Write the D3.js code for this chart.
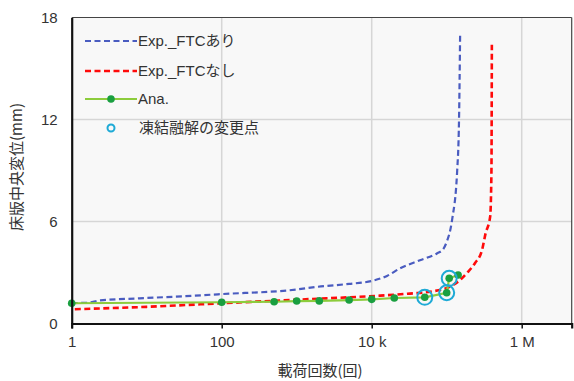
<!DOCTYPE html>
<html><head><meta charset="utf-8">
<script src="https://cdn.jsdelivr.net/npm/d3@7"></script>
<style>body{margin:0;background:#fff;}svg{display:block;font-family:"Liberation Sans",Arial,sans-serif;}</style>
</head><body>
<svg id="c" width="574" height="381"></svg>
<script>
const xTickValues = [1, 100, 10000, 1000000];
const xTickLabels = ["1", "100", "10 k", "1 M"];
const yTickValues = [0, 6, 12, 18];
const seriesNames = ["Exp._FTCあり", "Exp._FTCなし", "Ana.", "凍結融解の変更点"];
const expWithFTC = [[1,1.2],[1.6,1.22],[2.4,1.36],[8,1.48],[30,1.6],[100,1.73],[1000,2.0],[1900,2.16],[5000,2.33],[10000,2.5],[16000,2.8],[24000,3.25],[44000,3.72],[74000,4.12],[89000,4.35],[100000,4.8],[118000,6.1],[138000,9.0],[146000,12.0],[151000,17.0]];
const expWithoutFTC = [[1.1,0.84],[10,0.98],[100,1.19],[1000,1.4],[2500,1.48],[13000,1.64],[30000,1.75],[60000,1.87],[100000,2.09],[151000,2.56],[186000,2.97],[239000,3.56],[295000,4.3],[330000,5.3],[380000,6.3],[395000,9.0],[400000,16.4]];
const analysis = [[1,1.19],[100,1.25],[500,1.28],[1000,1.32],[2000,1.33],[5000,1.38],[10000,1.42],[20000,1.5],[51000,1.54],[100000,1.81],[108000,2.66],[142000,2.85]];
const changePoints = [[51000,1.54],[100000,1.81],[108000,2.66]];

const svg = d3.select("#c");
const L = 71.7, R = 571.7, T = 17.5, B = 323.5;
const x = d3.scaleLog().domain([1, Math.pow(10, 500/75)]).range([L, R]);
const y = d3.scaleLinear().domain([0, 18]).range([B, T]);

svg.append("rect").attr("x", L).attr("y", T).attr("width", R-L).attr("height", B-T).attr("fill", "#f8f8f8");

// grid
svg.append("g").selectAll("line").data(xTickValues.slice(1)).join("line")
  .attr("x1", d=>x(d)).attr("x2", d=>x(d)).attr("y1", T).attr("y2", B)
  .attr("stroke", "#d6d6d6").attr("stroke-width", 1.5);
svg.append("g").selectAll("line").data(yTickValues.slice(1,3)).join("line")
  .attr("x1", L).attr("x2", R).attr("y1", d=>y(d)).attr("y2", d=>y(d))
  .attr("stroke", "#d6d6d6").attr("stroke-width", 1.5);

// frame top/right
svg.append("line").attr("x1", L).attr("x2", R).attr("y1", T).attr("y2", T).attr("stroke", "#444").attr("stroke-width", 1.2);
svg.append("line").attr("x1", R).attr("x2", R).attr("y1", T).attr("y2", B).attr("stroke", "#444").attr("stroke-width", 1.2);

const line = d3.line().x(d=>x(d[0])).y(d=>y(d[1]));
const smooth = d3.line().x(d=>x(d[0])).y(d=>y(d[1])).curve(d3.curveMonotoneX);

svg.append("path").datum(expWithFTC).attr("d", smooth).attr("fill","none")
  .attr("stroke", "#4a5cc0").attr("stroke-width", 2.2).attr("stroke-dasharray", "6,3.5");
svg.append("path").datum(expWithoutFTC).attr("d", smooth).attr("fill","none")
  .attr("stroke", "#ff0a0a").attr("stroke-width", 2.6).attr("stroke-dasharray", "6,3.5");
svg.append("path").datum(analysis).attr("d", line).attr("fill","none")
  .attr("stroke", "#8ccc3c").attr("stroke-width", 2.2);
svg.append("g").selectAll("circle").data(analysis).join("circle")
  .attr("cx", d=>x(d[0])).attr("cy", d=>y(d[1])).attr("r", 3.8)
  .attr("fill", "#1a9f40");
svg.append("g").selectAll("circle").data(changePoints).join("circle")
  .attr("cx", d=>x(d[0])).attr("cy", d=>y(d[1])).attr("r", 7.5)
  .attr("fill", "none").attr("stroke", "#1eaad6").attr("stroke-width", 2);

// axes
const xAxis = d3.axisBottom(x).tickValues(xTickValues).tickFormat((d,i)=>xTickLabels[i]).tickSize(5).tickPadding(8);
const gx = svg.append("g").attr("transform", `translate(0,${B})`).call(xAxis);
gx.select(".domain").attr("stroke", "#111").attr("stroke-width", 2.2);
gx.selectAll(".tick line").attr("stroke", "#111").attr("stroke-width", 1.5);
gx.selectAll("text").attr("font-size", 15).attr("fill", "#333").attr("font-family", "Liberation Sans, Arial, sans-serif");

const yAxis = d3.axisLeft(y).tickValues(yTickValues).tickSize(0).tickPadding(14);
const gy = svg.append("g").attr("transform", `translate(${L},0)`).call(yAxis);
gy.select(".domain").attr("stroke", "#111").attr("stroke-width", 2.2);
gy.selectAll("text").attr("font-size", 15).attr("fill", "#333").attr("font-family", "Liberation Sans, Arial, sans-serif");

// axis titles
svg.append("text").attr("x", 320).attr("y", 376).attr("text-anchor", "middle")
  .attr("font-size", 15).attr("fill", "#333").attr("font-family", "Noto Sans CJK JP, sans-serif").text("載荷回数(回)");
svg.append("text").attr("transform", "translate(22,167) rotate(-90)").attr("text-anchor", "middle")
  .attr("font-size", 15).attr("fill", "#333").attr("font-family", "Noto Sans CJK JP, sans-serif").text("床版中央変位(mm)");

// legend
const lg = svg.append("g");
const rows = [41, 71, 99, 128];
const lx1 = 85, lx2 = 137;
lg.append("line").attr("x1", lx1).attr("x2", lx2).attr("y1", rows[0]).attr("y2", rows[0])
  .attr("stroke", "#4a5cc0").attr("stroke-width", 2.2).attr("stroke-dasharray", "6,3.5");
lg.append("line").attr("x1", lx1).attr("x2", lx2).attr("y1", rows[1]).attr("y2", rows[1])
  .attr("stroke", "#ff0a0a").attr("stroke-width", 2.6).attr("stroke-dasharray", "6,3.5");
lg.append("line").attr("x1", lx1).attr("x2", lx2).attr("y1", rows[2]).attr("y2", rows[2])
  .attr("stroke", "#8ccc3c").attr("stroke-width", 2.2);
lg.append("circle").attr("cx", (lx1+lx2)/2).attr("cy", rows[2]).attr("r", 3.8).attr("fill", "#1a9f40");
lg.append("circle").attr("cx", (lx1+lx2)/2).attr("cy", rows[3]).attr("r", 3.5).attr("fill", "none").attr("stroke", "#1eaad6").attr("stroke-width", 2);
lg.selectAll("text").data(seriesNames).join("text")
  .attr("x", (d,i)=> i===3 ? 139 : 138).attr("y", (d,i)=>rows[i]).attr("dy", "0.35em")
  .attr("font-size", 15).attr("fill", "#333")
  .attr("font-family", "Liberation Sans, Noto Sans CJK JP, sans-serif").text(d=>d);
</script>
</body></html>
